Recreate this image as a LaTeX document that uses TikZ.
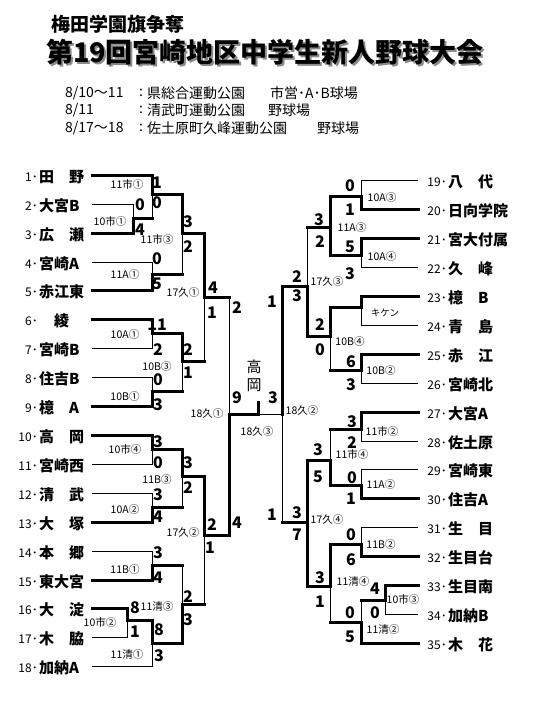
\documentclass[tikz,border=0pt]{standalone}
\usepackage{fontspec}
\setmainfont{Noto Sans CJK JP}
\tikzset{
  thn/.style={line width=1pt},
  thk/.style={line width=3pt, line cap=rect, line join=miter},
  nm/.style={inner sep=0pt, anchor=west, font=\fontsize{15}{15}\selectfont\bfseries},
  tnum/.style={inner sep=0pt, font=\fontsize{12}{12}\selectfont},
  sc/.style={inner sep=0pt, font=\fontsize{16}{16}\selectfont\bfseries},
  lb/.style={inner sep=0pt, font=\fontsize{10.5}{10.5}\selectfont},
  info/.style={inner sep=0pt, anchor=west, font=\fontsize{14}{14}\selectfont},
  colon/.style={inner sep=0pt, font=\fontsize{14}{14}\selectfont},
}
\begin{document}
\begin{tikzpicture}[x=1pt,y=-1pt]
\useasboundingbox (0,0) rectangle (540,720);
% header
\node[inner sep=0pt, font=\fontsize{19}{19}\selectfont\bfseries] (sub) at (118,24) {梅田学園旗争奪};
\node[inner sep=0pt, font=\fontsize{27}{27}\selectfont\bfseries, text=black!45] (titsh) at (267,54) {第19回宮崎地区中学生新人野球大会};
\node[inner sep=0pt, font=\fontsize{27}{27}\selectfont\bfseries] (tit) at (265,52) {第19回宮崎地区中学生新人野球大会};
\node[info] (d1) at (65,93) {8/10～11};
\node[info] (d2) at (65,110) {8/11};
\node[info] (d3) at (65,128) {8/17～18};
\node[colon] (c1) at (141,93) {:};
\node[colon] (c2) at (141,110) {:};
\node[colon] (c3) at (141,128) {:};
\node[info] (v1) at (147,93) {県総合運動公園};
\node[info] (v2) at (147,110) {清武町運動公園};
\node[info] (v3) at (147,128) {佐土原町久峰運動公園};
\node[info] (f1) at (270,93) {市営･A･B球場};
\node[info] (f2) at (268,110) {野球場};
\node[info] (f3) at (317,128) {野球場};

% left team labels
\foreach \i/\y/\n in {1/175/田　野,2/204/大宮B,3/233/広　瀬,4/262/宮崎A,5/290/赤江東,6/319/　綾,7/348/宮崎B,8/377/住吉B,9/406/檍　A,10/435/高　岡,11/464/宮崎西,12/493/清　武,13/522/大　塚,14/551/本　郷,15/580/東大宮,16/608/大　淀,17/637/木　脇,18/666/加納A}{
  \node[tnum, anchor=east] (no\i) at (38,\y+2) {\i･};
  \node[nm] (tm\i) at (39,\y+2) {\n};
}
% right team labels
\foreach \i/\y/\n in {19/180/八　代,20/209/日向学院,21/238/宮大付属,22/267/久　峰,23/296/檍　B,24/325/青　島,25/354/赤　江,26/383/宮崎北,27/412/大宮A,28/441/佐土原,29/469/宮崎東,30/498/住吉A,31/527/生　目,32/556/生目台,33/585/生目南,34/614/加納B,35/643/木　花}{
  \node[tnum, anchor=east] (no\i) at (447,\y+2) {\i･};
  \node[nm] (tm\i) at (448,\y+2) {\n};
}

% ---------- left bracket ----------
% thin (losers)
\draw[thn] (92,204)--(133,204)--(133,218);
\draw[thn] (152,218)--(152,194);
\draw[thn] (92,262)--(152,262)--(152,274);
\draw[thn] (182,274)--(182,233);
\draw[thn] (92,348)--(152,348)--(152,333);
\draw[thn] (92,377)--(152,377)--(152,391);
\draw[thn] (182,391)--(182,361);
\draw[thn] (204,297)--(204,361);
\draw[thn] (229,297)--(229,414);
\draw[thn] (92,464)--(152,464)--(152,449);
\draw[thn] (92,493)--(152,493)--(152,507);
\draw[thn] (182,507)--(182,476);
\draw[thn] (92,551)--(152,551)--(152,565);
\draw[thn] (182,565)--(182,604);
\draw[thn] (92,637)--(127,637)--(127,620);
\draw[thn] (92,666)--(152,666)--(152,643);
\draw[thn] (204,604)--(204,535);
\draw[thn] (258,414)--(282,414);
% thick (winners)
\draw[thk] (92,175)--(152,175)--(152,194)--(182,194)--(182,233)--(204,233)--(204,297)--(229,297);
\draw[thk] (92,233)--(133,233)--(133,218)--(152,218);
\draw[thk] (92,290)--(152,290)--(152,274)--(182,274);
\draw[thk] (92,319)--(152,319)--(152,333)--(182,333)--(182,361)--(204,361);
\draw[thk] (92,406)--(152,406)--(152,391)--(182,391);
\draw[thk] (92,435)--(152,435)--(152,449)--(182,449)--(182,476)--(204,476)--(204,535)--(229,535)--(229,414)--(258,414)--(258,402);
\draw[thk] (92,522)--(152,522)--(152,507)--(182,507);
\draw[thk] (92,580)--(152,580)--(152,565)--(182,565);
\draw[thk] (92,608)--(127,608)--(127,620)--(152,620)--(152,643)--(182,643)--(182,604)--(204,604);

% ---------- right bracket ----------
\draw[thn] (418,180)--(361,180)--(361,196);
\draw[thn] (418,267)--(361,267)--(361,255);
\draw[thn] (307,227)--(307,286);
\draw[thn] (418,325)--(361,325)--(361,307);
\draw[thn] (418,383)--(361,383)--(361,370);
\draw[thn] (330,370)--(330,336);
\draw[thn] (418,441)--(361,441)--(361,429);
\draw[thn] (330,429)--(330,460);
\draw[thn] (418,469)--(361,469)--(361,485);
\draw[thn] (418,527)--(361,527)--(361,544);
\draw[thn] (418,614)--(385,614)--(385,600);
\draw[thn] (361,600)--(361,622);
\draw[thn] (330,622)--(330,586);
\draw[thn] (282,522)--(282,414);
\draw[thk] (418,209)--(361,209)--(361,196)--(330,196)--(330,227)--(307,227);
\draw[thk] (418,238)--(361,238)--(361,255)--(330,255)--(330,227);
\draw[thk] (418,296)--(361,296)--(361,307)--(330,307)--(330,336)--(307,336)--(307,286)--(282,286)--(282,414);
\draw[thk] (418,354)--(361,354)--(361,370)--(330,370);
\draw[thk] (418,412)--(361,412)--(361,429)--(330,429);
\draw[thk] (418,498)--(361,498)--(361,485)--(330,485)--(330,460)--(307,460)--(307,522);
\draw[thk] (418,556)--(361,556)--(361,544)--(330,544)--(330,586)--(307,586)--(307,522)--(282,522);
\draw[thk] (418,585)--(385,585)--(385,600)--(361,600);
\draw[thk] (418,643)--(361,643)--(361,622)--(330,622);

% champion
\node[inner sep=0pt, font=\fontsize{15}{15}\selectfont] (ch1) at (254,367) {高};
\node[inner sep=0pt, font=\fontsize{15}{15}\selectfont] (ch2) at (254,385) {岡};

% scores
\foreach \x/\y/\s [count=\k] in {
 157/183/1,157/203/0,140/205/0,140/230/4,157/259/0,157/284/5,188/222/3,188/247/2,
 213/288/4,212/313/1,157/325/11,158/350/2,158/380/0,158/405/3,188/350/2,188/373/1,
 237/308/2,237/523/4,237/398/9,273/398/3,
 158/442/3,158/463/0,158/495/3,158/517/4,188/463/3,188/488/2,212/525/2,210/548/1,
 158/553/3,158/578/4,135/608/8,135/632/1,159/630/8,159/656/3,188/597/2,188/620/3,
 272/302/1,272/515/1,297/277/2,297/296/3,297/513/3,297/535/7,
 319/220/3,320/242/2,320/325/2,320/350/0,318/450/3,318/477/5,320/578/3,320/602/1,
 350/186/0,350/210/1,350/247/5,350/274/3,351/362/6,351/385/3,352/422/3,352/443/2,
 352/478/0,351/499/1,351/535/0,351/560/6,375/589/4,375/613/0,350/613/0,350/637/5}{
  \node[sc] (sc\k) at (\x,\y) {\s};
}
% match labels
\foreach \x/\y/\t [count=\k] in {
 127/185/11市①,110/222/10市①,157/240/11市③,125/275/11A①,183/293/17久①,
 125/335/10A①,157/367/10B③,125/397/10B①,207/414/18久①,125/450/10市④,
 157/480/11B③,125/510/10A②,183/533/17久②,125/570/11B①,157/607/11清③,
 100/623/10市②,127/655/11清①,257/432/18久③,
 302/411/18久②,327/282/17久③,327/520/17久④,352/228/11A③,350/342/10B④,
 352/455/11市④,353/582/11清④,382/198/10A③,382/257/10A④,
 381/371/10B②,382/432/11市②,381/485/11A②,381/545/11B②,403/600/10市③,383/630/11清②}{
  \node[lb] (lb\k) at (\x,\y) {\t};
}
\node[inner sep=0pt, font=\fontsize{9.5}{9.5}\selectfont] (kiken) at (385,313) {キケン};
\end{tikzpicture}
\end{document}
